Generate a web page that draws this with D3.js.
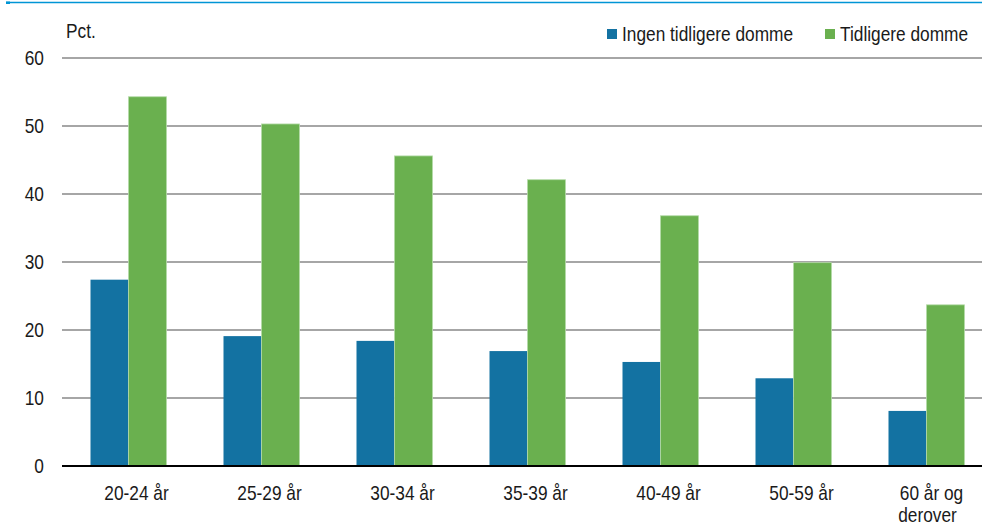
<!DOCTYPE html>
<html><head><meta charset="utf-8">
<script src="https://cdn.jsdelivr.net/npm/d3@7"></script>
<style>
html,body{margin:0;padding:0;background:#fff;}
svg text{font-family:"Liberation Sans","Arial",sans-serif;fill:#1a1a1a;font-size:20px;}
</style></head>
<body><svg id="c" width="982" height="526"></svg>
<script>
const categories = ["20-24 år","25-29 år","30-34 år","35-39 år","40-49 år","50-59 år","60 år og derover"];
const seriesNames = ["Ingen tidligere domme","Tidligere domme"];
const ingen = [27.4,19.1,18.4,16.9,15.3,12.9,8.1];
const tidligere = [54.3,50.3,45.6,42.1,36.8,29.9,23.7];
const yTicks = [0,10,20,30,40,50,60];
const colors = ["#1372a2","#6ab04f"];

(function(){
const svg = d3.select("#c");
const SX = 0.865;
const mLeft = 62, mRight = 993, mTop = 58, mBottom = 466;
const x = d3.scaleBand().domain(categories).range([mLeft,mRight]).paddingInner(57/133).paddingOuter(57/133/2);
const xs = d3.scaleBand().domain(seriesNames).range([0,x.bandwidth()]);
const y = d3.scaleLinear().domain([0,60]).range([mBottom,mTop]);

function label(parent, tx, ty, str, anchor){
  return parent.append("text").attr("transform",`translate(${tx},${ty}) scale(${SX},1)`)
    .attr("text-anchor",anchor||"start").text(str);
}

// top line
svg.append("line").attr("x1",6).attr("x2",982).attr("y1",2.5).attr("y2",2.5).attr("stroke","#0095d5").attr("stroke-width",1.5);
svg.append("rect").attr("x",6).attr("y",1.5).attr("width",4).attr("height",2.5).attr("fill","#0095d5");

// y labels
const yl = svg.append("g");
yTicks.forEach(v=>label(yl, 44, y(v)+7, d3.format("d")(v), "end"));
// grid
svg.append("g").selectAll("line").data(yTicks.filter(d=>d>0)).join("line")
  .attr("x1",mLeft).attr("x2",982).attr("y1",d=>y(d)).attr("y2",d=>y(d))
  .attr("stroke","#a6a6a6").attr("stroke-width",2);

// bars
const data = categories.map((c,i)=>({c, vals:[ingen[i],tidligere[i]]}));
const g = svg.append("g").selectAll("g").data(data).join("g").attr("transform",d=>`translate(${x(d.c)},0)`);
g.selectAll("rect").data(d=>d.vals.map((v,j)=>({v,s:seriesNames[j],j}))).join("rect")
  .attr("x",d=>xs(d.s)).attr("width",xs.bandwidth())
  .attr("y",d=>y(d.v)).attr("height",d=>y(0)-y(d.v))
  .attr("fill",d=>colors[d.j])
  .attr("stroke",d=>d.j===1?"#b5dba8":"none").attr("stroke-width",0.8);

// zero axis
svg.append("line").attr("x1",mLeft).attr("x2",982).attr("y1",y(0)).attr("y2",y(0)).attr("stroke","#000").attr("stroke-width",2);

// x labels
const xg = svg.append("g");
categories.forEach(c=>{
  const cx = x(c)+x.bandwidth()/2;
  if(c==="60 år og derover"){
    label(xg, cx+5, 500, "60 år og", "middle");
    label(xg, cx+1, 522, "derover", "middle");
  } else label(xg, cx+8, 500, c, "middle");
});

// Pct.
label(svg, 66, 38, "Pct.");

// legend
const legX = [607,825];
seriesNames.forEach((s,i)=>{
  svg.append("rect").attr("x",legX[i]).attr("y",29).attr("width",10).attr("height",10).attr("fill",colors[i]);
  label(svg, legX[i]+15, 41, s);
});
})();
</script></body></html>
